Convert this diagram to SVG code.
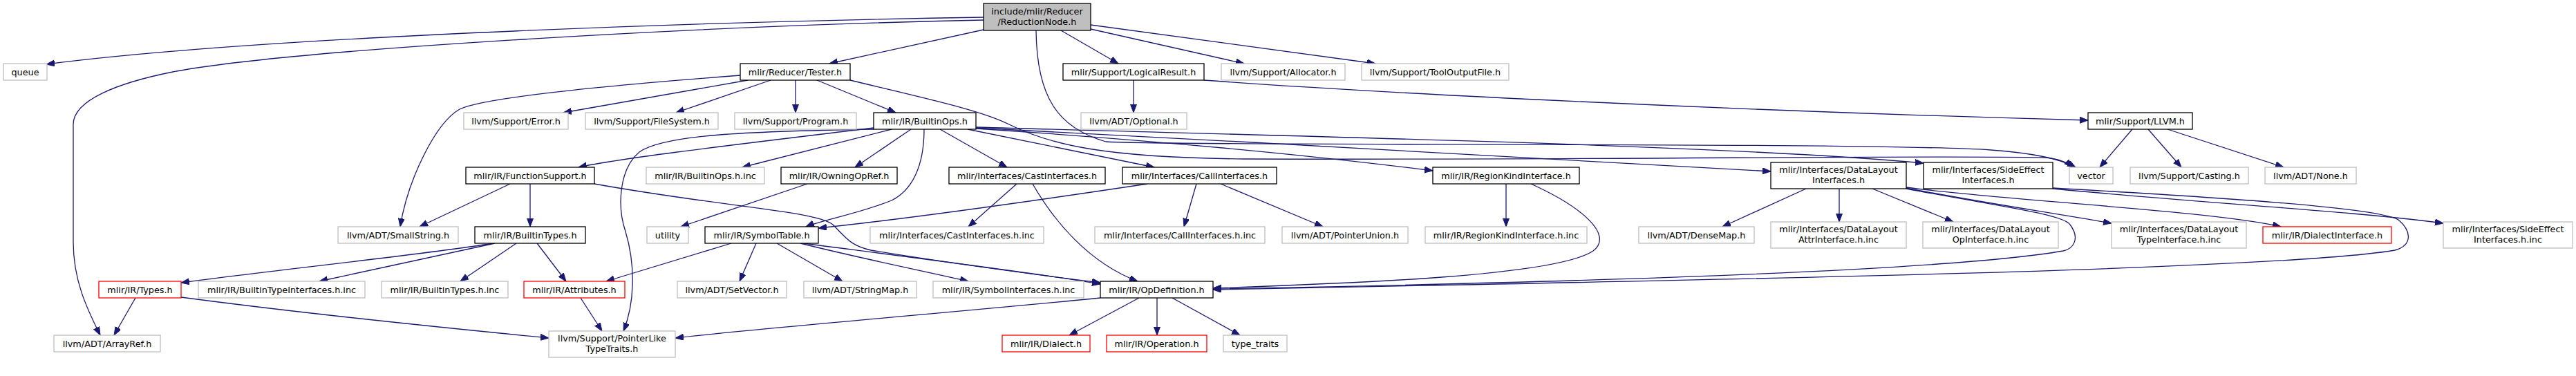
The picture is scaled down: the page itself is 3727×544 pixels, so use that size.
<svg xmlns="http://www.w3.org/2000/svg" width="3727" height="544" viewBox="0 0 3727 544">
<style>
rect{fill:#fff;stroke-width:1.3}
.d rect{stroke:#000}
.g rect{stroke:#bfbfbf}
.r rect{stroke:#ff0000}
.root rect{fill:#bfbfbf;stroke:#000}
text{font-family:'DejaVu Sans',sans-serif;font-size:12.8px;text-anchor:middle;fill:#000}
#edges path{fill:none;stroke:#191970;stroke-width:1.3;marker-end:url(#a)}
</style>
<defs>
<marker id="a" markerWidth="14" markerHeight="10" refX="12" refY="4.5" orient="auto" markerUnits="userSpaceOnUse"><path d="M0,0L12,4.5L0,9z" fill="#191970" stroke="#191970" stroke-width="1"/></marker>
</defs>
<rect x="0" y="0" width="3727" height="544" style="fill:#fff;stroke:none"/>
<g id="edges">
<path d="M1423,25 C1100,30 400,50 67,93"/>
<path d="M1423,29 C1000,38 420,72 250,104 C170,120 106,145 106,180 L106,350 C106,405 125,445 145,485"/>
<path d="M1423,43 L1200,92"/>
<path d="M1535,44 L1618,92"/>
<path d="M1578,42 L1800,92"/>
<path d="M1578,36 L1990,92"/>
<path d="M1499,44 C1500,140 1530,185 1600,205 C1700,212 2700,205 2880,217 C2950,222 2985,232 3003,242"/>
<path d="M1230,116 C1350,145 1420,160 1460,180 C1520,210 1600,228 1800,230 C2300,232 2800,224 2960,228 C2980,230 2992,236 2998,242"/>
<path d="M1071,109 C900,122 700,140 665,158 C630,178 590,260 579,328"/>
<path d="M1082,116 L815,163"/>
<path d="M1115,116 L978,163"/>
<path d="M1151,116 L1151,163"/>
<path d="M1182,116 L1296,163"/>
<path d="M1640,116 L1640,163"/>
<path d="M1742,116 C2000,135 2500,160 3021,174"/>
<path d="M3085,187 L3038,242"/>
<path d="M3108,187 L3156,242"/>
<path d="M3136,187 L3304,242"/>
<path d="M1264,185 C1100,205 900,228 837,242"/>
<path d="M1290,187 L1074,242"/>
<path d="M1318,187 L1237,242"/>
<path d="M1264,187 C1080,190 960,195 925,220 C895,245 893,300 905,335 C920,385 918,440 902,479"/>
<path d="M1337,187 C1337,240 1320,275 1290,290 C1240,310 1190,318 1166,328"/>
<path d="M1360,187 L1457,242"/>
<path d="M1400,187 L1670,242"/>
<path d="M1412,186 C1700,205 1900,225 2073,247"/>
<path d="M1412,185 C1800,205 2300,232 2562,248"/>
<path d="M1412,184 C1900,198 2500,210 2783,236"/>
<path d="M1471,266 L1401,328"/>
<path d="M1494,266 C1525,320 1575,380 1646,407"/>
<path d="M1660,266 C1500,290 1300,318 1184,330"/>
<path d="M1731,266 L1713,328"/>
<path d="M1766,266 L1914,328"/>
<path d="M738,266 L607,328"/>
<path d="M767,266 L767,328"/>
<path d="M860,266 C1050,300 1180,305 1205,325 C1225,345 1230,355 1260,362 C1400,385 1520,400 1592,409"/>
<path d="M1168,266 L985,328"/>
<path d="M2179,266 L2179,328"/>
<path d="M2215,266 C2290,300 2335,340 2305,363 C2250,400 1950,410 1755,417"/>
<path d="M2613,273 L2492,328"/>
<path d="M2661,273 L2661,321"/>
<path d="M2709,273 L2826,321"/>
<path d="M2758,272 C2850,290 2950,305 3055,323"/>
<path d="M2758,271 C2900,290 3200,305 3300,328"/>
<path d="M2758,273 C2900,300 2985,310 2995,325 C3010,345 3000,360 2985,363 C2800,395 2200,410 1755,418"/>
<path d="M2970,273 C3200,295 3400,305 3535,323"/>
<path d="M2970,272 C3200,285 3440,300 3470,318 C3490,335 3490,355 3465,362 C3300,390 2500,405 1755,419"/>
<path d="M714,352 C600,370 400,390 262,409"/>
<path d="M716,352 L462,407"/>
<path d="M747,352 L666,407"/>
<path d="M777,352 L819,407"/>
<path d="M1058,352 L877,407"/>
<path d="M1094,352 L1070,407"/>
<path d="M1124,352 L1219,407"/>
<path d="M1158,352 C1250,375 1350,395 1401,407"/>
<path d="M1162,352 C1300,370 1500,395 1592,411"/>
<path d="M196,431 L165,485"/>
<path d="M262,430 C450,455 650,475 794,489"/>
<path d="M840,431 L871,479"/>
<path d="M1592,431 C1400,450 1100,475 977,489"/>
<path d="M1648,431 L1547,485"/>
<path d="M1674,431 L1674,485"/>
<path d="M1696,431 L1794,485"/>
</g>
<g id="n1" class="root"><rect x="1423" y="5" width="155" height="39"/><text x="1500.5" y="20.5">include/mlir/Reducer</text><text x="1500.5" y="35.5">/ReductionNode.h</text></g>
<g id="n2" class="g"><rect x="5" y="92" width="63" height="24"/><text x="36.5" y="108.5">queue</text></g>
<g id="n3" class="g"><rect x="78" y="485" width="154" height="24"/><text x="155" y="501.5">llvm/ADT/ArrayRef.h</text></g>
<g id="n4" class="d"><rect x="1071" y="92" width="159" height="24"/><text x="1150.5" y="108.5">mlir/Reducer/Tester.h</text></g>
<g id="n5" class="g"><rect x="671" y="163" width="151" height="24"/><text x="746.5" y="179.5">llvm/Support/Error.h</text></g>
<g id="n6" class="g"><rect x="847" y="163" width="192" height="24"/><text x="943" y="179.5">llvm/Support/FileSystem.h</text></g>
<g id="n7" class="g"><rect x="1063" y="163" width="176" height="24"/><text x="1151" y="179.5">llvm/Support/Program.h</text></g>
<g id="n8" class="d"><rect x="1264" y="163" width="148" height="24"/><text x="1338" y="179.5">mlir/IR/BuiltinOps.h</text></g>
<g id="n9" class="d"><rect x="1538" y="92" width="204" height="24"/><text x="1640" y="108.5">mlir/Support/LogicalResult.h</text></g>
<g id="n10" class="g"><rect x="1564" y="163" width="153" height="24"/><text x="1640.5" y="179.5">llvm/ADT/Optional.h</text></g>
<g id="n11" class="g"><rect x="1767" y="92" width="179" height="24"/><text x="1856.5" y="108.5">llvm/Support/Allocator.h</text></g>
<g id="n12" class="g"><rect x="1970" y="92" width="213" height="24"/><text x="2076.5" y="108.5">llvm/Support/ToolOutputFile.h</text></g>
<g id="n13" class="d"><rect x="3021" y="163" width="151" height="24"/><text x="3096.5" y="179.5">mlir/Support/LLVM.h</text></g>
<g id="n14" class="g"><rect x="2994" y="242" width="63" height="24"/><text x="3025.5" y="258.5">vector</text></g>
<g id="n15" class="g"><rect x="3082" y="242" width="171" height="24"/><text x="3167.5" y="258.5">llvm/Support/Casting.h</text></g>
<g id="n16" class="g"><rect x="3277" y="242" width="132" height="24"/><text x="3343" y="258.5">llvm/ADT/None.h</text></g>
<g id="n17" class="d"><rect x="674" y="242" width="186" height="24"/><text x="767" y="258.5">mlir/IR/FunctionSupport.h</text></g>
<g id="n18" class="g"><rect x="935" y="242" width="171" height="24"/><text x="1020.5" y="258.5">mlir/IR/BuiltinOps.h.inc</text></g>
<g id="n19" class="d"><rect x="1130" y="242" width="168" height="24"/><text x="1214" y="258.5">mlir/IR/OwningOpRef.h</text></g>
<g id="n20" class="d"><rect x="1373" y="242" width="226" height="24"/><text x="1486" y="258.5">mlir/Interfaces/CastInterfaces.h</text></g>
<g id="n21" class="d"><rect x="1624" y="242" width="223" height="24"/><text x="1735.5" y="258.5">mlir/Interfaces/CallInterfaces.h</text></g>
<g id="n22" class="d"><rect x="2073" y="242" width="212" height="24"/><text x="2179" y="258.5">mlir/IR/RegionKindInterface.h</text></g>
<g id="n23" class="d"><rect x="2562" y="235" width="196" height="38"/><text x="2660" y="250">mlir/Interfaces/DataLayout</text><text x="2660" y="265">Interfaces.h</text></g>
<g id="n24" class="d"><rect x="2783" y="235" width="187" height="38"/><text x="2876.5" y="250">mlir/Interfaces/SideEffect</text><text x="2876.5" y="265">Interfaces.h</text></g>
<g id="n25" class="g"><rect x="489" y="328" width="174" height="24"/><text x="576" y="344.5">llvm/ADT/SmallString.h</text></g>
<g id="n26" class="d"><rect x="687" y="328" width="160" height="24"/><text x="767" y="344.5">mlir/IR/BuiltinTypes.h</text></g>
<g id="n27" class="g"><rect x="936" y="328" width="60" height="24"/><text x="966" y="344.5">utility</text></g>
<g id="n28" class="d"><rect x="1020" y="328" width="164" height="24"/><text x="1102" y="344.5">mlir/IR/SymbolTable.h</text></g>
<g id="n29" class="g"><rect x="1259" y="328" width="251" height="24"/><text x="1384.5" y="344.5">mlir/Interfaces/CastInterfaces.h.inc</text></g>
<g id="n30" class="g"><rect x="1584" y="328" width="246" height="24"/><text x="1707" y="344.5">mlir/Interfaces/CallInterfaces.h.inc</text></g>
<g id="n31" class="g"><rect x="1855" y="328" width="182" height="24"/><text x="1946" y="344.5">llvm/ADT/PointerUnion.h</text></g>
<g id="n32" class="g"><rect x="2062" y="328" width="234" height="24"/><text x="2179" y="344.5">mlir/IR/RegionKindInterface.h.inc</text></g>
<g id="n33" class="g"><rect x="2371" y="328" width="167" height="24"/><text x="2454.5" y="344.5">llvm/ADT/DenseMap.h</text></g>
<g id="n34" class="g"><rect x="2562" y="321" width="196" height="38"/><text x="2660" y="336">mlir/Interfaces/DataLayout</text><text x="2660" y="351">AttrInterface.h.inc</text></g>
<g id="n35" class="g"><rect x="2782" y="321" width="196" height="38"/><text x="2880" y="336">mlir/Interfaces/DataLayout</text><text x="2880" y="351">OpInterface.h.inc</text></g>
<g id="n36" class="g"><rect x="3055" y="321" width="195" height="38"/><text x="3152.5" y="336">mlir/Interfaces/DataLayout</text><text x="3152.5" y="351">TypeInterface.h.inc</text></g>
<g id="n37" class="r"><rect x="3274" y="328" width="186" height="24"/><text x="3367" y="344.5">mlir/IR/DialectInterface.h</text></g>
<g id="n38" class="g"><rect x="3535" y="321" width="187" height="38"/><text x="3628.5" y="336">mlir/Interfaces/SideEffect</text><text x="3628.5" y="351">Interfaces.h.inc</text></g>
<g id="n39" class="r"><rect x="143" y="407" width="119" height="24"/><text x="202.5" y="423.5">mlir/IR/Types.h</text></g>
<g id="n40" class="g"><rect x="287" y="407" width="241" height="24"/><text x="407.5" y="423.5">mlir/IR/BuiltinTypeInterfaces.h.inc</text></g>
<g id="n41" class="g"><rect x="552" y="407" width="183" height="24"/><text x="643.5" y="423.5">mlir/IR/BuiltinTypes.h.inc</text></g>
<g id="n42" class="r"><rect x="758" y="407" width="146" height="24"/><text x="831" y="423.5">mlir/IR/Attributes.h</text></g>
<g id="n43" class="g"><rect x="980" y="407" width="158" height="24"/><text x="1059" y="423.5">llvm/ADT/SetVector.h</text></g>
<g id="n44" class="g"><rect x="1163" y="407" width="163" height="24"/><text x="1244.5" y="423.5">llvm/ADT/StringMap.h</text></g>
<g id="n45" class="g"><rect x="1350" y="407" width="218" height="24"/><text x="1459" y="423.5">mlir/IR/SymbolInterfaces.h.inc</text></g>
<g id="n46" class="d"><rect x="1592" y="407" width="163" height="24"/><text x="1673.5" y="423.5">mlir/IR/OpDefinition.h</text></g>
<g id="n47" class="g"><rect x="794" y="479" width="183" height="38"/><text x="885.5" y="494">llvm/Support/PointerLike</text><text x="885.5" y="509">TypeTraits.h</text></g>
<g id="n48" class="r"><rect x="1450" y="485" width="127" height="24"/><text x="1513.5" y="501.5">mlir/IR/Dialect.h</text></g>
<g id="n49" class="r"><rect x="1601" y="485" width="145" height="24"/><text x="1673.5" y="501.5">mlir/IR/Operation.h</text></g>
<g id="n50" class="g"><rect x="1770" y="485" width="92" height="24"/><text x="1816" y="501.5">type_traits</text></g>
</svg>
